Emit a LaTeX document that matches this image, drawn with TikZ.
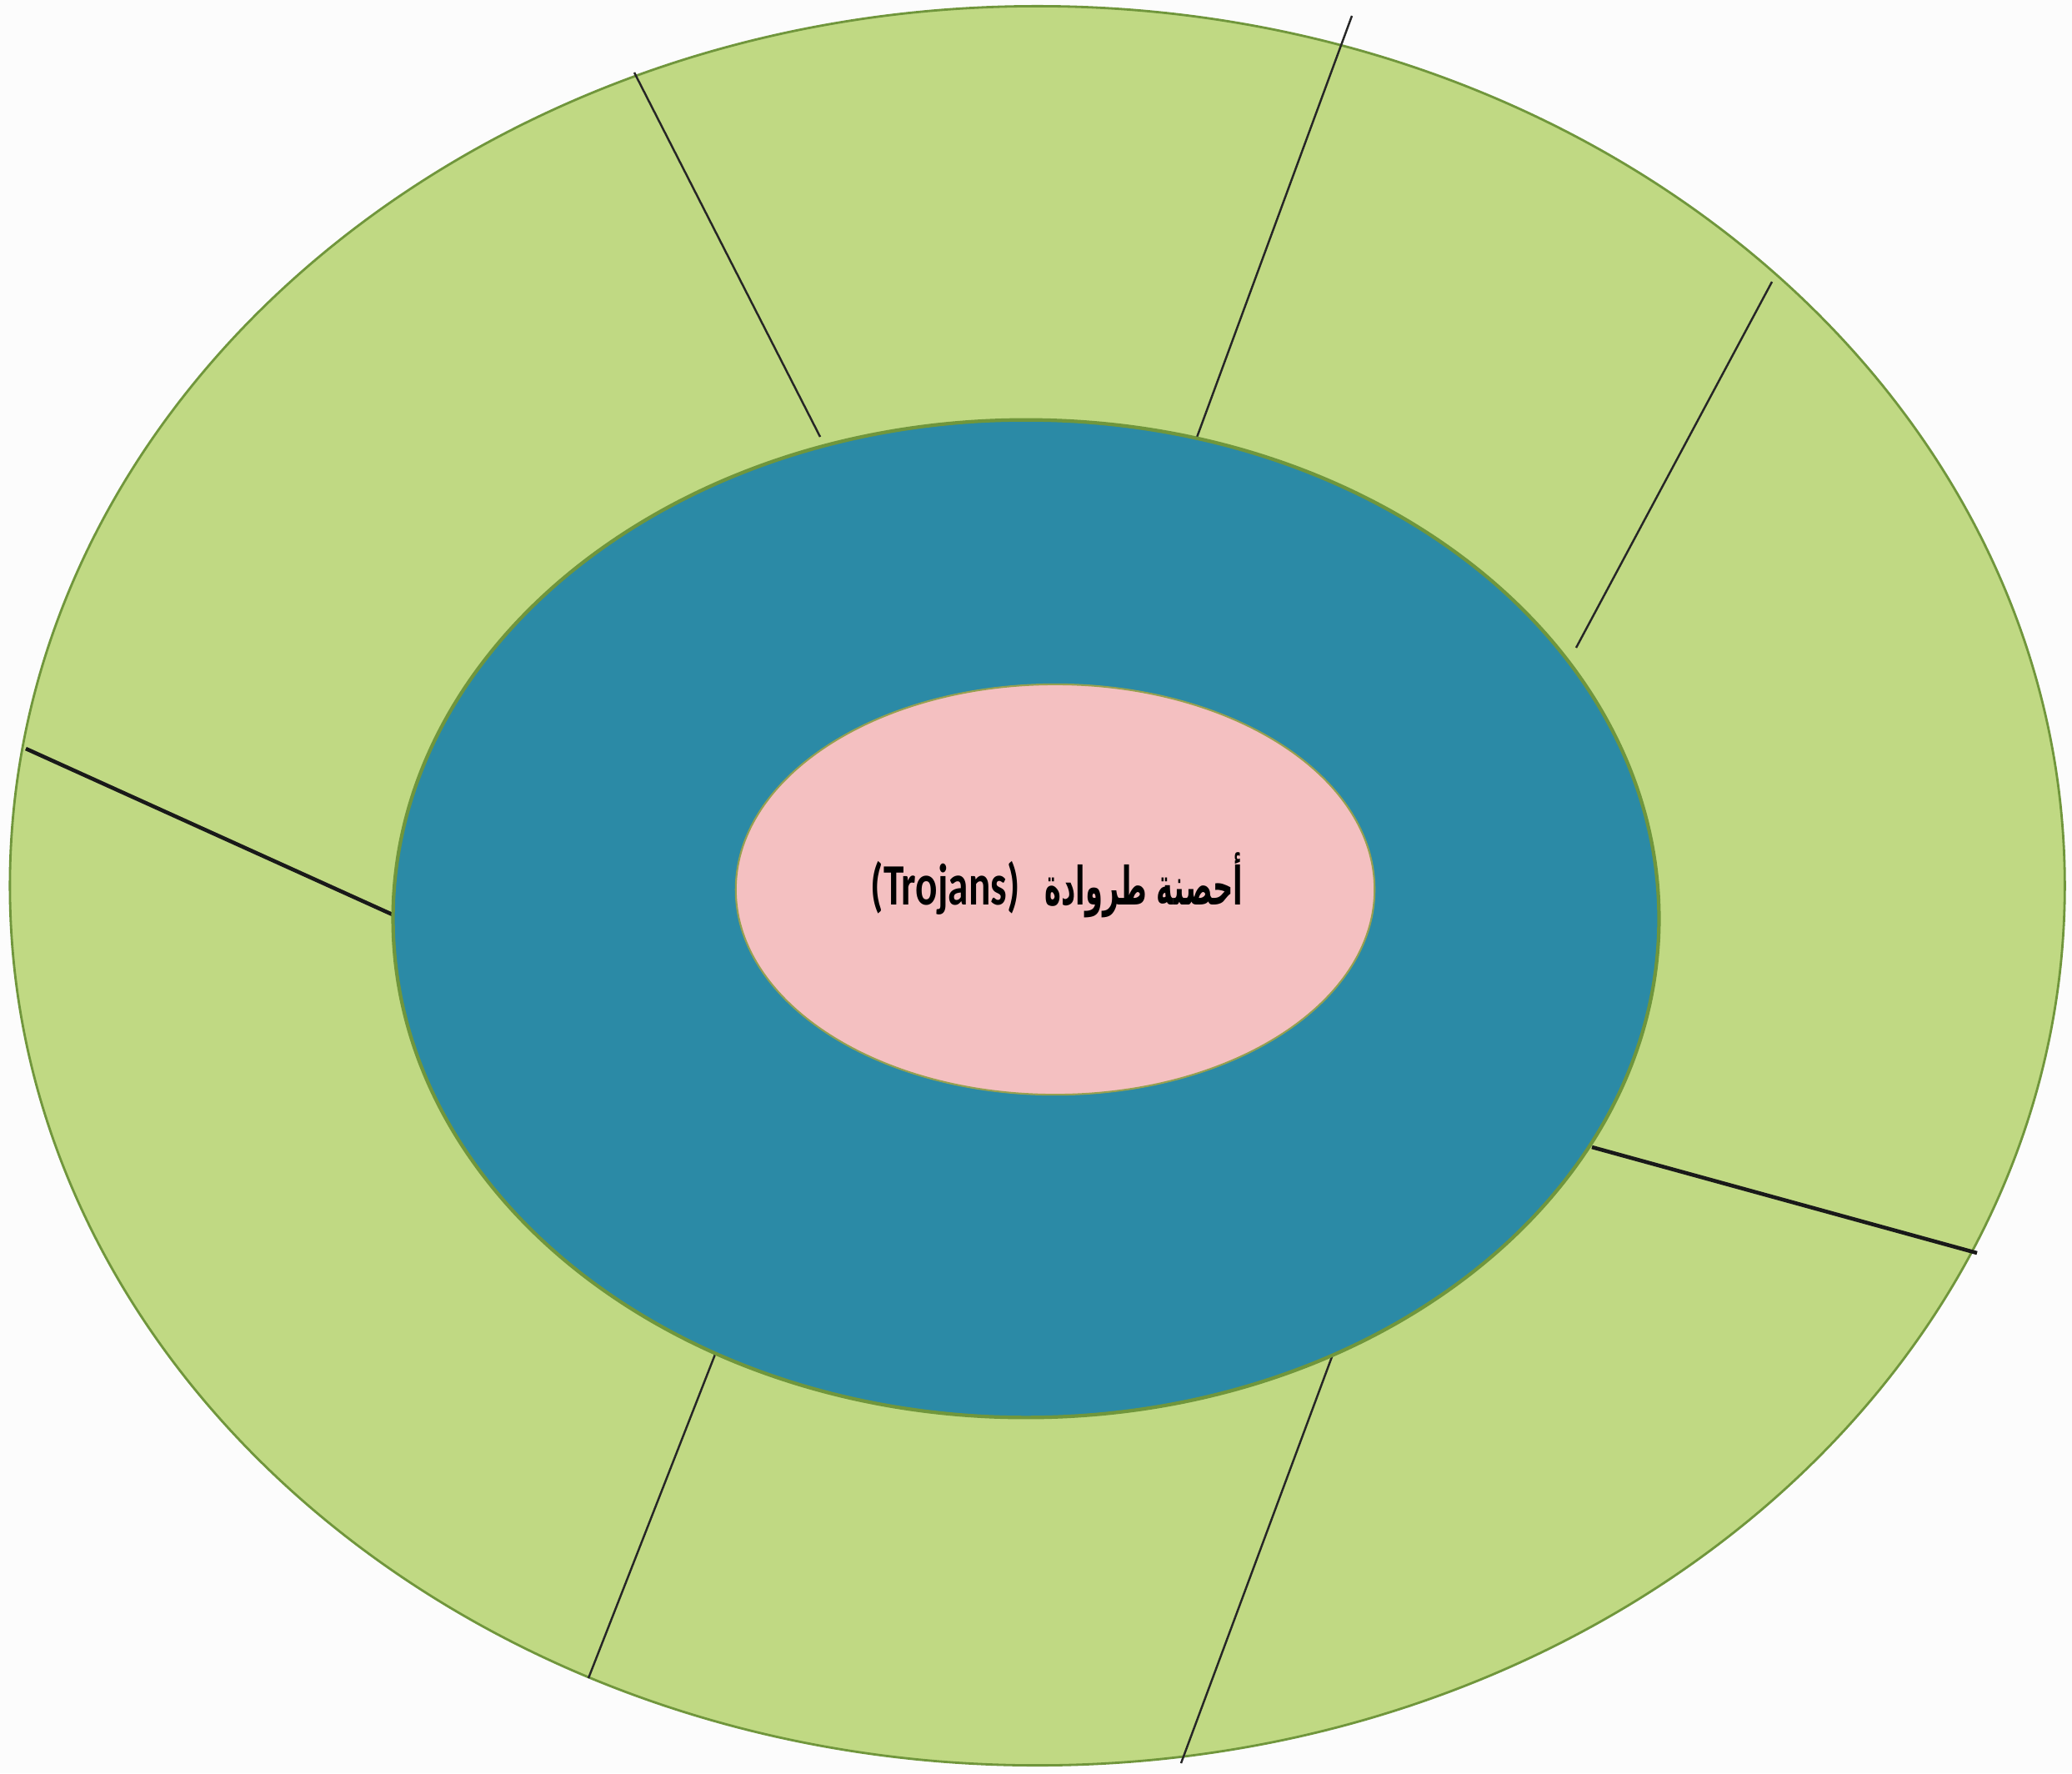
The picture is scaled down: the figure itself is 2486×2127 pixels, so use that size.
\documentclass[tikz,border=0pt]{standalone}
\usepackage{fontspec}
\usepackage{graphicx}
\TeXXeTstate=1
\newfontfamily\arabicfont[Script=Arabic]{DejaVu Sans}
\newfontfamily\latinfont{Carlito}
\definecolor{bgcol}{RGB}{252,252,252}
\definecolor{ringgreen}{RGB}{192,217,131}
\definecolor{ringedge}{RGB}{112,150,60}
\definecolor{tealfill}{RGB}{43,138,166}
\definecolor{pinkfill}{RGB}{244,192,193}
\definecolor{pinkedge}{RGB}{150,160,80}
\tikzset{
  divider/.style={draw=black!85, line width=0.7pt},
  thickdivider/.style={draw=black!90, line width=1.3pt},
}
\begin{document}
\begin{tikzpicture}[x=0.01cm,y=-0.01cm]
\fill[bgcol] (0,0) rectangle (2486,2127);
\useasboundingbox (0,0) rectangle (2486,2127);
% outer ring
\filldraw[fill=ringgreen, draw=ringedge, line width=0.8pt] (1244.6,1062.5) ellipse [x radius=12.32cm, y radius=10.545cm];
% divider end points
\coordinate (a1) at (761,87);   \coordinate (b1) at (984,524);
\coordinate (a2) at (1622,19);  \coordinate (b2) at (1434,530);
\coordinate (a3) at (2126,338); \coordinate (b3) at (1891,777);
\coordinate (a4) at (31,898);   \coordinate (b4) at (473,1098);
\coordinate (a5) at (2372,1503);\coordinate (b5) at (1910,1376);
\coordinate (a6) at (706,2013); \coordinate (b6) at (868,1599);
\coordinate (a7) at (1417,2115);\coordinate (b7) at (1606,1606);
\draw[divider] (a1) -- (b1);
\draw[divider] (a2) -- (b2);
\draw[divider] (a3) -- (b3);
\draw[thickdivider] (a4) -- (b4);
\draw[thickdivider] (a5) -- (b5);
\draw[divider] (a6) -- (b6);
\draw[divider] (a7) -- (b7);
% middle ellipse
\filldraw[fill=tealfill, draw=ringedge, line width=1.2pt] (1231,1102) ellipse [x radius=7.59cm, y radius=5.98cm];
% inner ellipse
\filldraw[fill=pinkfill, draw=pinkedge, line width=0.6pt] (1266,1067) ellipse [x radius=3.83cm, y radius=2.46cm];
% label
\node[inner sep=0pt, font=\fontsize{20}{24}\selectfont] (label) at (1268,1062)
  {\scalebox{0.7}[1]{\latinfont\bfseries (Trojans)}\hspace{0.3cm}\scalebox{0.48}[0.9]{\arabicfont\bfseries\beginR أحصنة طروادة\endR}};
\end{tikzpicture}
\end{document}
